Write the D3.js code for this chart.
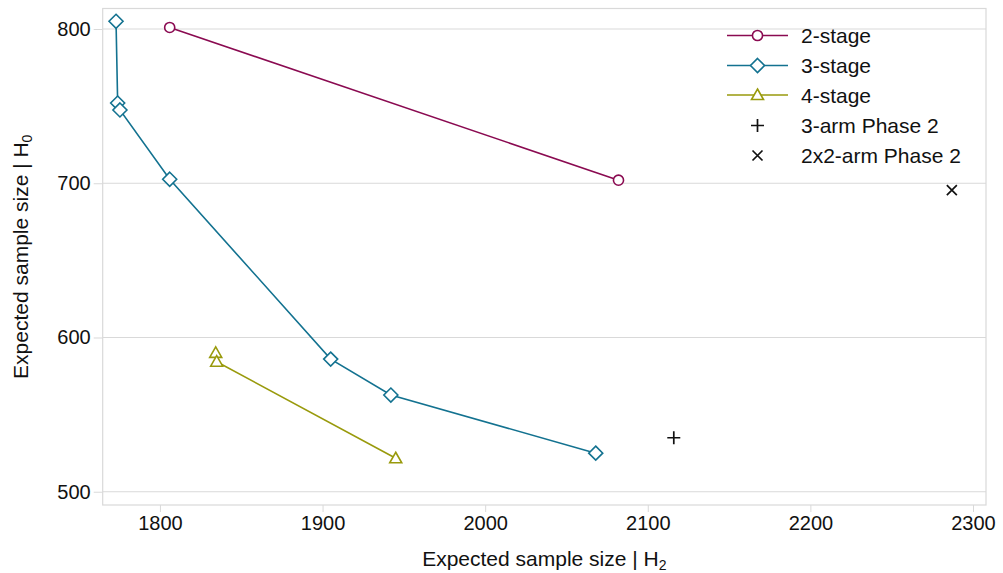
<!DOCTYPE html>
<html>
<head>
<meta charset="utf-8">
<script src="https://cdn.jsdelivr.net/npm/d3@7"></script>
<style>
  body { margin: 0; background: #fff; }
  svg text { font-family: "Liberation Sans", Arial, sans-serif; fill: #111; }
</style>
</head>
<body>
<div id="chart"></div>
<script>
// data
var stage2X = [1806, 2082];
var stage2Y = [801, 702];
var stage3X = [1773, 1774, 1775.4, 1806, 1905, 1942, 2068];
var stage3Y = [805, 752, 747.5, 702.6, 586, 562.7, 525];
var stage4X = [1834.3, 1834.9, 1945];
var stage4Y = [590, 584.3, 521.7];
var arm3X = [2116];
var arm3Y = [535];
var arm2x2X = [2287];
var arm2x2Y = [695.6];
var xTicks = [1800, 1900, 2000, 2100, 2200, 2300];
var yTicks = [500, 600, 700, 800];

var width = 1003, height = 573;
var margin = {top: 8.5, right: 17, bottom: 68, left: 102.7};

var svg = d3.select('#chart').append('svg')
  .attr('width', width)
  .attr('height', height);

var x = d3.scaleLinear().domain([1764.8, 2308]).range([margin.left, width - margin.right]);
var y = d3.scaleLinear().domain([491.4, 813.3]).range([height - margin.bottom, margin.top]);

var grey = '#d9d9d9';

// grid
svg.append('g').selectAll('line')
  .data(yTicks).enter().append('line')
  .attr('x1', x.range()[0]).attr('x2', x.range()[1])
  .attr('y1', d => y(d)).attr('y2', d => y(d))
  .attr('stroke', grey).attr('stroke-width', 1);

// frame
svg.append('rect')
  .attr('x', x.range()[0]).attr('y', y.range()[1])
  .attr('width', x.range()[1] - x.range()[0])
  .attr('height', y.range()[0] - y.range()[1])
  .attr('fill', 'none').attr('stroke', grey).attr('stroke-width', 1.2);

// axes
var xAxis = svg.append('g')
  .attr('transform', 'translate(0,' + y.range()[0] + ')')
  .call(d3.axisBottom(x).tickValues(xTicks).tickSize(7).tickPadding(4).tickFormat(d3.format('d')));
var yAxis = svg.append('g')
  .attr('transform', 'translate(' + x.range()[0] + ',0)')
  .call(d3.axisLeft(y).tickValues(yTicks).tickSize(9).tickPadding(3).tickFormat(d3.format('d')));
[xAxis, yAxis].forEach(function(a) {
  a.select('.domain').remove();
  a.selectAll('line').attr('stroke', grey);
  a.selectAll('text').style('font-size', '20px').style('font-family', '"Liberation Sans", Arial, sans-serif').attr('fill', '#111');
});

// axis titles
var xt = svg.append('text')
  .attr('x', (x.range()[0] + x.range()[1]) / 2).attr('y', 566)
  .attr('text-anchor', 'middle').style('font-size', '21px');
xt.append('tspan').text('Expected sample size | H');
xt.append('tspan').text('2').style('font-size', '14px').attr('dy', 4);

var yt = svg.append('text')
  .attr('transform', 'translate(28,' + ((y.range()[0] + y.range()[1]) / 2) + ') rotate(-90)')
  .attr('text-anchor', 'middle').style('font-size', '21px');
yt.append('tspan').text('Expected sample size | H');
yt.append('tspan').text('0').style('font-size', '14px').attr('dy', 4);

// series
var series = [
  {name: '2-stage', xs: stage2X, ys: stage2Y, color: '#8a0a51', marker: 'circle'},
  {name: '3-stage', xs: stage3X, ys: stage3Y, color: '#137290', marker: 'diamond'},
  {name: '4-stage', xs: stage4X, ys: stage4Y, color: '#999a0c', marker: 'triangle'}
];

function markerPath(type) {
  if (type === 'circle') return d3.symbol().type(d3.symbolCircle).size(80)();
  if (type === 'diamond') return 'M0,-7L7,0L0,7L-7,0Z';
  return 'M0,-6L6,4.5L-6,4.5Z';
}

var line = d3.line().x(d => x(d[0])).y(d => y(d[1]));

series.forEach(function(s) {
  var pts = s.xs.map((v, i) => [v, s.ys[i]]);
  svg.append('path').datum(pts)
    .attr('d', line)
    .attr('fill', 'none').attr('stroke', s.color).attr('stroke-width', 1.6);
  svg.append('g').selectAll('path')
    .data(pts).enter().append('path')
    .attr('d', markerPath(s.marker))
    .attr('transform', d => 'translate(' + x(d[0]) + ',' + y(d[1]) + ')')
    .attr('fill', '#fff').attr('stroke', s.color).attr('stroke-width', 1.6);
});

// single points
function plus(g) { g.append('path').attr('d', 'M-6.5,0H6.5M0,-6.5V6.5').attr('stroke', '#111').attr('stroke-width', 1.7); }
function cross(g) { g.append('path').attr('d', 'M-5,-5L5,5M-5,5L5,-5').attr('stroke', '#111').attr('stroke-width', 1.7); }

arm3X.forEach(function(v, i) {
  plus(svg.append('g').attr('transform', 'translate(' + x(v) + ',' + y(arm3Y[i]) + ')'));
});
arm2x2X.forEach(function(v, i) {
  cross(svg.append('g').attr('transform', 'translate(' + x(v) + ',' + y(arm2x2Y[i]) + ')'));
});

// legend
var legend = svg.append('g');
var rowY = [35.5, 65.5, 95, 125.5, 155.5];
series.forEach(function(s, i) {
  var g = legend.append('g').attr('transform', 'translate(757.5,' + rowY[i] + ')');
  g.append('line').attr('x1', -30.5).attr('x2', 30.5).attr('stroke', s.color).attr('stroke-width', 1.6);
  g.append('path').attr('d', markerPath(s.marker)).attr('fill', '#fff').attr('stroke', s.color).attr('stroke-width', 1.6);
  g.append('text').attr('x', 43.5).attr('dy', '0.36em').style('font-size', '21px').text(s.name);
});
var g4 = legend.append('g').attr('transform', 'translate(757.5,' + rowY[3] + ')');
plus(g4);
g4.append('text').attr('x', 43.5).attr('dy', '0.36em').style('font-size', '21px').text('3-arm Phase 2');
var g5 = legend.append('g').attr('transform', 'translate(757.5,' + rowY[4] + ')');
cross(g5);
g5.append('text').attr('x', 43.5).attr('dy', '0.36em').style('font-size', '21px').text('2x2-arm Phase 2');
</script>
</body>
</html>
